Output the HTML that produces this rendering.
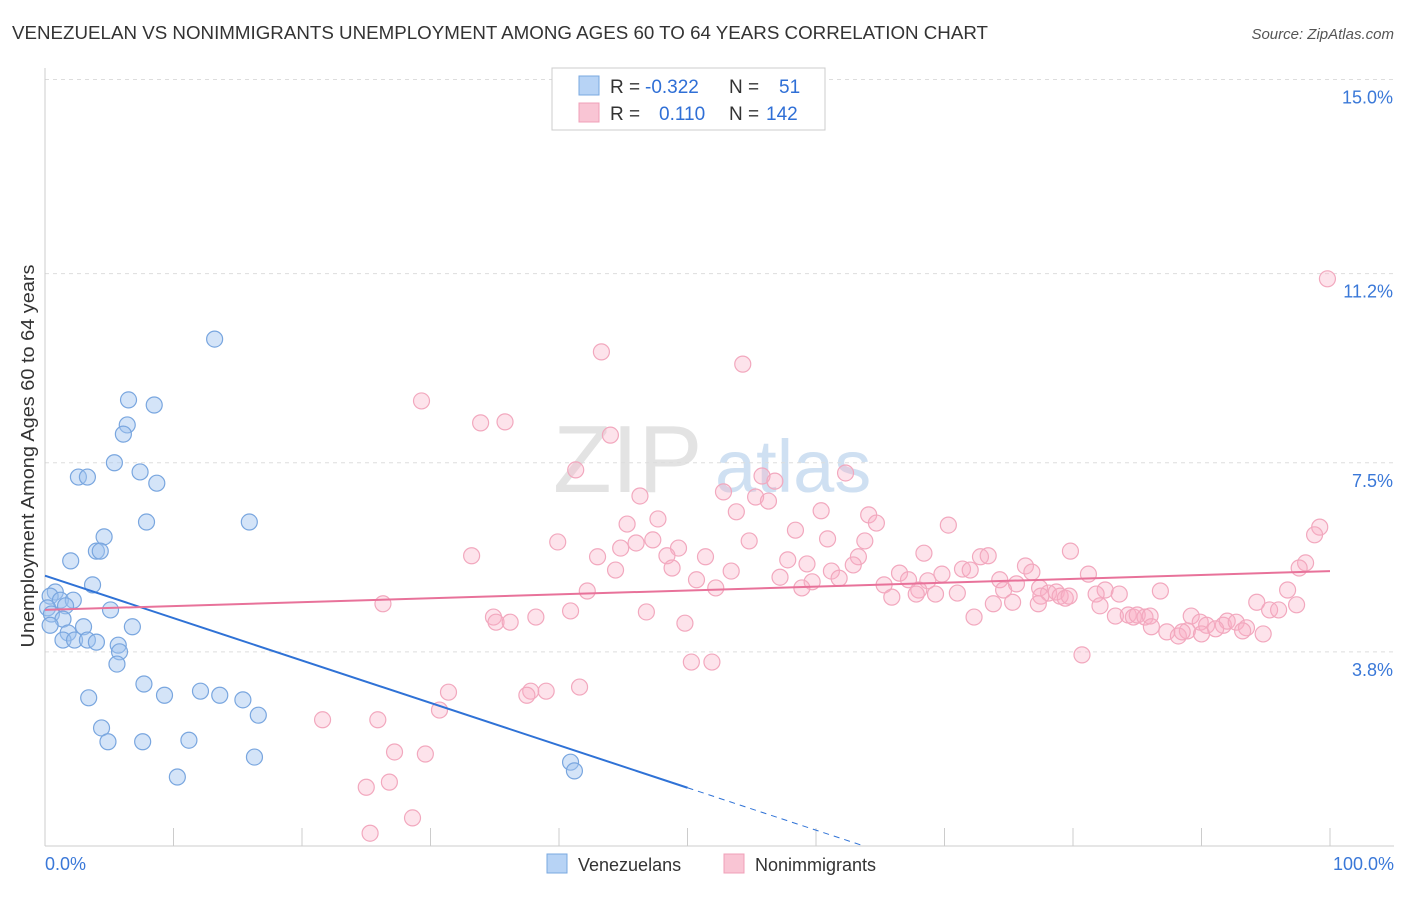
<!DOCTYPE html>
<html><head><meta charset="utf-8"><style>
body{margin:0;background:#fff;font-family:"Liberation Sans",sans-serif;}
svg text{font-family:"Liberation Sans",sans-serif;}
</style></head><body>
<svg id="chart" width="1406" height="892" xmlns="http://www.w3.org/2000/svg">
<text x="12" y="39" font-size="18" fill="#333" textLength="976" lengthAdjust="spacingAndGlyphs">VENEZUELAN VS NONIMMIGRANTS UNEMPLOYMENT AMONG AGES 60 TO 64 YEARS CORRELATION CHART</text>
<text x="1394" y="39" font-size="15" fill="#555" font-style="italic" text-anchor="end">Source: ZipAtlas.com</text>
<g>
<text x="553" y="492" font-size="96" fill="#e3e3e3" font-family="Liberation Serif">ZIP</text>
<text x="715" y="492" font-size="74" fill="#cfe0f2">atlas</text>
</g>
<g id="grid"></g>
<g id="axes"></g>
<g id="points"></g>
<g id="lines"></g>
<text transform="translate(34,456) rotate(-90)" font-size="18" fill="#333" text-anchor="middle" textLength="383" lengthAdjust="spacingAndGlyphs">Unemployment Among Ages 60 to 64 years</text>
<g>
<rect x="552" y="68" width="273" height="62" fill="#fff" stroke="#ccc"/>
<rect x="579" y="76" width="20" height="19" fill="#b7d3f5" stroke="#7aa8e0"/>
<rect x="579" y="103" width="20" height="19" fill="#f9c5d4" stroke="#f0a0b8"/>
<text x="610" y="93" font-size="19" fill="#333">R =</text>
<text x="645" y="93" font-size="19" fill="#2f6fd6">-0.322</text>
<text x="729" y="93" font-size="19" fill="#333">N =</text>
<text x="779" y="93" font-size="19" fill="#2f6fd6">51</text>
<text x="610" y="120" font-size="19" fill="#333">R =</text>
<text x="659" y="120" font-size="19" fill="#2f6fd6">0.110</text>
<text x="729" y="120" font-size="19" fill="#333">N =</text>
<text x="766" y="120" font-size="19" fill="#2f6fd6">142</text>
</g>
<g>
<rect x="547" y="854" width="20" height="19" fill="#b7d3f5" stroke="#7aa8e0"/>
<text x="578" y="871" font-size="18" fill="#333">Venezuelans</text>
<rect x="724" y="854" width="20" height="19" fill="#f9c5d4" stroke="#f0a0b8"/>
<text x="755" y="871" font-size="18" fill="#333">Nonimmigrants</text>
</g>
</svg>
<script>
const yTicks=[3.8,7.5,11.2,15.0];
const yTickLabels=["3.8%","7.5%","11.2%","15.0%"];
const xTickLabels=["0.0%","100.0%"];
const blueX=[13.2,6.5,8.5,6.4,6.1,5.4,7.4,2.6,3.3,8.7,7.9,15.9,4.6,4.0,4.3,2.0,3.7,0.8,0.4,1.2,2.2,1.6,5.1,0.2,0.5,1.4,0.4,6.8,3.0,1.8,1.4,2.3,3.3,4.0,5.7,5.8,5.6,7.7,3.4,9.3,12.1,13.6,15.4,16.6,4.4,4.9,7.6,11.2,16.3,10.3,40.9,41.2];
const blueY=[9.92,8.73,8.63,8.24,8.06,7.50,7.32,7.22,7.22,7.10,6.34,6.34,6.05,5.77,5.77,5.58,5.11,4.97,4.89,4.81,4.81,4.70,4.62,4.66,4.54,4.44,4.32,4.29,4.29,4.17,4.03,4.03,4.03,3.99,3.93,3.80,3.56,3.17,2.90,2.95,3.03,2.95,2.86,2.56,2.31,2.04,2.04,2.07,1.74,1.35,1.64,1.47];
const pinkX=[99.8,43.3,54.3,29.3,33.9,35.8,44.0,41.3,62.3,55.8,56.8,46.3,52.8,55.3,56.3,53.8,60.4,47.7,45.3,64.1,64.7,70.3,99.2,98.8,58.4,39.9,46.0,47.3,54.8,60.9,63.8,33.2,43.0,44.8,49.3,48.4,51.4,57.8,59.3,63.3,68.4,72.8,73.4,79.8,98.1,97.6,44.4,48.8,53.4,62.9,61.2,66.5,69.8,71.4,72.0,76.3,76.8,81.2,57.2,50.7,59.7,61.8,67.2,65.3,68.7,74.3,75.6,96.7,42.2,52.2,58.9,68.0,74.6,77.4,78.1,82.5,86.8,65.9,67.8,69.3,71.0,78.7,79.0,83.6,77.5,79.4,79.7,81.8,75.3,73.8,77.3,26.3,40.9,46.8,82.1,94.3,97.4,95.3,96.0,34.9,35.1,36.2,38.2,83.3,84.3,84.7,85.0,85.6,86.0,72.3,89.2,89.9,90.4,91.7,92.0,92.7,93.5,49.8,86.1,87.3,88.2,88.9,90.0,91.1,93.2,94.8,88.5,80.7,50.3,51.9,31.4,37.8,39.0,41.6,37.5,30.7,21.6,25.9,27.2,29.6,26.8,25.0,28.6,25.3];
const pinkY=[11.10,9.67,9.43,8.71,8.28,8.30,8.04,7.36,7.30,7.24,7.14,6.85,6.93,6.83,6.75,6.54,6.56,6.40,6.30,6.48,6.32,6.28,6.24,6.09,6.18,5.95,5.93,5.99,5.97,6.01,5.97,5.68,5.66,5.83,5.83,5.68,5.66,5.60,5.52,5.66,5.73,5.66,5.68,5.77,5.54,5.44,5.40,5.44,5.38,5.50,5.38,5.34,5.32,5.42,5.40,5.48,5.36,5.32,5.26,5.21,5.17,5.24,5.21,5.11,5.19,5.21,5.13,5.01,4.99,5.05,5.05,5.01,5.01,5.05,4.95,5.01,4.99,4.87,4.93,4.93,4.95,4.97,4.89,4.93,4.89,4.85,4.89,4.93,4.77,4.74,4.74,4.74,4.60,4.58,4.70,4.77,4.72,4.62,4.62,4.48,4.38,4.38,4.48,4.50,4.52,4.48,4.52,4.48,4.50,4.48,4.50,4.38,4.32,4.32,4.40,4.38,4.27,4.36,4.29,4.19,4.11,4.21,4.15,4.25,4.21,4.15,4.19,3.74,3.60,3.60,3.01,3.03,3.03,3.11,2.95,2.66,2.47,2.47,1.84,1.80,1.25,1.15,0.55,0.25];
const blueTrend=[5.29,-0.083];
const pinkTrend=[4.62,0.0076];

const NS="http://www.w3.org/2000/svg";
const X0=45,X1=1330,Y0=846,PXV=51.1;
function xs(v){return X0+(X1-X0)*v/100;}
function ys(v){return Y0-PXV*v;}
function mk(tag,attrs,parent){const e=document.createElementNS(NS,tag);for(const k in attrs)e.setAttribute(k,attrs[k]);parent.appendChild(e);return e;}
const grid=document.getElementById('grid'),axes=document.getElementById('axes'),pts=document.getElementById('points'),lines=document.getElementById('lines');
yTicks.forEach((t,i)=>{
 const l=mk('line',{x1:X0,x2:1394,y1:ys(t),y2:ys(t),stroke:'#ddd','stroke-dasharray':'4,4'},grid);
 
 
 const tx=mk('text',{x:1393,y:ys(t)+24,'font-size':18,fill:'#3a78d8','text-anchor':'end'},axes);
 tx.textContent=yTickLabels[i];
 
 
});
let a=mk('line',{x1:X0,x2:X0,y1:68,y2:Y0,stroke:'#ccc'},axes);


a=mk('line',{x1:X0,x2:1394,y1:Y0,y2:Y0,stroke:'#ccc'},axes);


for(let i=0;i<=10;i++){
 const t=mk('line',{x1:xs(i*10),x2:xs(i*10),y1:Y0-18,y2:Y0,stroke:'#ccc'},axes);
 
 
}
let xl=mk('text',{x:45,y:870,'font-size':18,fill:'#3a78d8'},axes);xl.textContent=xTickLabels[0];


xl=mk('text',{x:1394,y:870,'font-size':18,fill:'#3a78d8','text-anchor':'end'},axes);xl.textContent=xTickLabels[1];


pinkX.forEach((x,i)=>{
 const c=mk('circle',{cx:xs(x),cy:ys(pinkY[i]),r:8,fill:'rgba(248,176,198,0.35)',stroke:'#f2a8be','stroke-width':1.2},pts);
 
 
});
blueX.forEach((x,i)=>{
 const c=mk('circle',{cx:xs(x),cy:ys(blueY[i]),r:8,fill:'rgba(160,196,240,0.45)',stroke:'#79a6df','stroke-width':1.2},pts);
 
 
});
const bEnd=50,bZero=-blueTrend[0]/blueTrend[1];
let tl=mk('line',{x1:xs(0),y1:ys(blueTrend[0]),x2:xs(bEnd),y2:ys(blueTrend[0]+blueTrend[1]*bEnd),stroke:'#2f72d6','stroke-width':2},lines);


tl=mk('line',{x1:xs(bEnd),y1:ys(blueTrend[0]+blueTrend[1]*bEnd),x2:xs(bZero),y2:ys(0),stroke:'#2f72d6','stroke-width':1,'stroke-dasharray':'6,5'},lines);


tl=mk('line',{x1:xs(0),y1:ys(pinkTrend[0]),x2:xs(100),y2:ys(pinkTrend[0]+pinkTrend[1]*100),stroke:'#e8729a','stroke-width':2},lines);


</script>
</body></html>
